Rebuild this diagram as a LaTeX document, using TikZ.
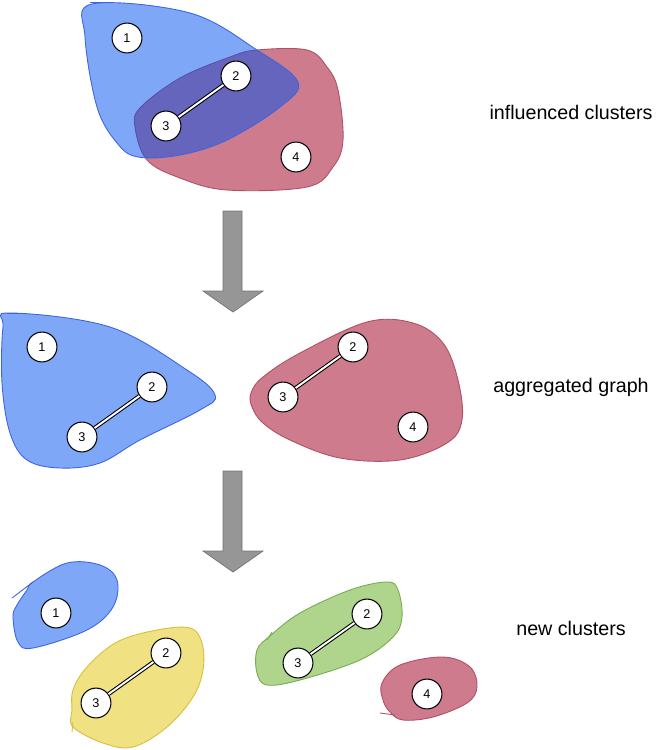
\documentclass[tikz,border=0pt]{standalone}
\usepackage{fontspec}
\setmainfont{Liberation Sans}
\usepackage{xcolor}
\usetikzlibrary{positioning}
\definecolor{clublue}{RGB}{0,80,240}
\definecolor{clublueline}{RGB}{60,100,225}
\definecolor{clured}{RGB}{206,123,141}
\definecolor{cluredline}{RGB}{175,80,100}
\definecolor{cluyellow}{RGB}{240,225,130}
\definecolor{cluyellowline}{RGB}{215,190,60}
\definecolor{clugreen}{RGB}{175,213,140}
\definecolor{clugreenline}{RGB}{120,170,80}
\definecolor{stepgray}{RGB}{150,150,150}

\begin{document}
\begin{tikzpicture}[x=0.02cm, y=-0.02cm, every node/.style={font=\fontsize{7.2}{9}\selectfont}]
    \tikzstyle{vert}=[circle, draw=black, line width=0.6pt, fill=white, minimum size=17pt, inner sep=0pt]
    \tikzstyle{link}=[double=white, draw=black, line width=0.6pt, double distance=1.1pt]
    \tikzstyle{blueclu}=[fill=clublue, fill opacity=0.5, draw=clublueline, draw opacity=1, line width=0.5pt]
    \tikzstyle{redclu}=[fill=clured, draw=cluredline, line width=0.5pt]
    \tikzstyle{yellowclu}=[fill=cluyellow, draw=cluyellowline, line width=0.5pt]
    \tikzstyle{greenclu}=[fill=clugreen, draw=clugreenline, line width=0.5pt]
    \tikzstyle{caption}=[font=\fontsize{11.2}{13}\selectfont]
    \tikzstyle{bigarrow}=[fill=stepgray, draw=black!55, line width=0.4pt]
    \useasboundingbox (0,0) rectangle (672,750);

    % influenced clusters
    \draw[redclu] plot[smooth cycle, tension=0.6] coordinates {(257,50) (307,50) (327,67) (338,90) (343,140) (333,167) (307,187) (227,190) (180,178) (147,160) (135,127) (140,108) (180,78) (230,57)};
    \draw[blueclu] plot[smooth cycle, tension=0.6] coordinates {(92,4) (190,13) (257,50) (298,82) (280,107) (227,140) (180,155) (138,157) (117,143) (97,107) (85,37)};
    \draw[clublueline, line width=0.5pt] (90,2) -- (107,2);
    \node[vert] (inf1) at (127,38) {1};
    \node[vert] (inf2) at (236,76) {2};
    \node[vert] (inf3) at (166,126) {3};
    \node[vert] (inf4) at (296,157) {4};
    \draw[link] (inf2) -- (inf3);
    \node[caption] (infcap) at (571,112) {influenced clusters};

    % aggregated graph
    \draw[blueclu] plot[smooth cycle, tension=0.6] coordinates {(10,313) (110,327) (187,370) (215,395) (200,410) (140,440) (100,463) (60,468) (27,460) (10,433) (2,383) (3,327)};
    \draw[clublueline, line width=0.5pt] (7,313) -- (20,313);
    \draw[redclu] plot[smooth cycle, tension=0.6] coordinates {(251,393) (263,377) (300,353) (367,322) (413,323) (443,343) (458,380) (462,420) (447,443) (400,460) (340,458) (290,440) (263,423) (252,407)};
    \node[vert] (agg1) at (42,347) {1};
    \node[vert] (agg2) at (152,387) {2};
    \node[vert] (agg3) at (82,437) {3};
    \node[vert] (aggr2) at (353,347) {2};
    \node[vert] (aggr3) at (283,397) {3};
    \node[vert] (aggr4) at (413,427) {4};
    \draw[link] (agg2) -- (agg3);
    \draw[link] (aggr2) -- (aggr3);
    \node[caption] (aggcap) at (571,387) {aggregated graph};

    % new clusters
    \draw[blueclu] plot[smooth cycle, tension=0.6] coordinates {(33,582) (67,563) (100,565) (117,580) (113,607) (87,630) (33,648) (18,642) (13,617) (17,605) (27,590)};
    \draw[clublueline, line width=0.5pt] (12,598) -- (33,582);
    \draw[yellowclu] plot[smooth cycle, tension=0.6] coordinates {(73,690) (87,667) (117,642) (157,630) (190,628) (202,643) (203,670) (193,697) (167,727) (133,747) (103,743) (73,727) (72,710)};
    \draw[cluyellowline, line width=0.5pt] (72,732) -- (73,722);
    \draw[greenclu] plot[smooth cycle, tension=0.6] coordinates {(270,636) (300,613) (350,590) (387,582) (398,590) (402,617) (393,637) (360,660) (300,680) (267,685) (257,673) (257,650)};
    \draw[clugreenline, line width=0.5pt] (267,640) -- (272,632);
    \draw[redclu] plot[smooth cycle, tension=0.6] coordinates {(383,700) (382,683) (400,665) (443,657) (470,667) (477,687) (467,703) (433,717) (403,720) (390,712)};
    \draw[cluredline, line width=0.5pt] (380,713) -- (395,715);
    \node[vert] (new1) at (56,613) {1};
    \node[vert] (newy2) at (166,653) {2};
    \node[vert] (newy3) at (96,703) {3};
    \node[vert] (newg2) at (367,614) {2};
    \node[vert] (newg3) at (298,663) {3};
    \node[vert] (newr4) at (427,694) {4};
    \draw[link] (newy2) -- (newy3);
    \draw[link] (newg2) -- (newg3);
    \node[caption] (newcap) at (571,628) {new clusters};

    % steps between rows
    \foreach \ay in {211,471}
      \draw[bigarrow] (223,\ay) -- (242,\ay) -- (242,\ay+80) -- (263,\ay+80) -- (233,\ay+101) -- (203,\ay+80) -- (223,\ay+80) -- cycle;
  \end{tikzpicture}
\end{document}
